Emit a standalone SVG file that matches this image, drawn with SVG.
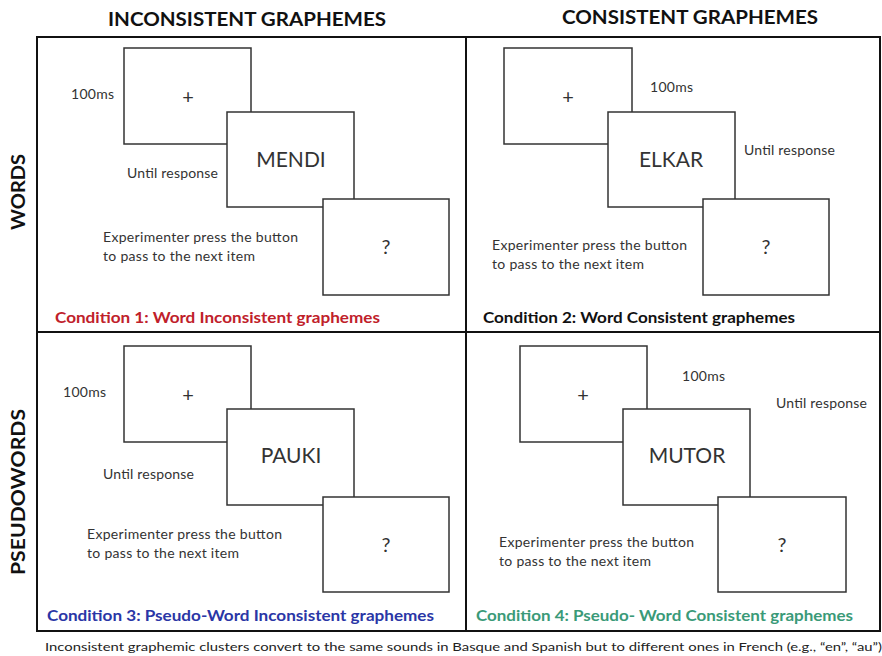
<svg xmlns="http://www.w3.org/2000/svg" width="882" height="656" viewBox="0 0 882 656">
<style>
text{font-family:Lato,"Open Sans","Liberation Sans",sans-serif;fill:#333}
.frame{fill:none;stroke:#111;stroke-width:2}
.scr{fill:#fff;stroke:#333;stroke-width:1.5}
.lbl{font-size:14px}
.stim{font-size:21px;text-anchor:middle}
.sym{font-size:20px;text-anchor:middle}
.head{font-size:18px;font-weight:bold;fill:#111;text-anchor:middle}
.cond{font-size:15px;font-weight:bold}
.foot{font-size:12px;fill:#222}
</style>
<rect width="882" height="656" fill="#fff"/>
<g id="headings">
<text class="head" x="247" y="26" textLength="278" lengthAdjust="spacingAndGlyphs">INCONSISTENT GRAPHEMES</text>
<text class="head" x="690" y="24" textLength="256" lengthAdjust="spacingAndGlyphs">CONSISTENT GRAPHEMES</text>
<text class="head" transform="translate(25,192) rotate(-90)" textLength="76" lengthAdjust="spacingAndGlyphs">WORDS</text>
<text class="head" transform="translate(25,492) rotate(-90)" textLength="166" lengthAdjust="spacingAndGlyphs">PSEUDOWORDS</text>
</g>
<g id="connectors">
<path class="frame" d="M37,37 H880 V631 H37 Z M466,37 V631 M37,332 H880"/>
</g>
<g id="cond1">
<rect class="scr" x="124" y="48" width="127" height="96"/>
<rect class="scr" x="227" y="112" width="127" height="95"/>
<rect class="scr" x="323" y="199" width="126" height="96"/>
<text class="sym" x="188" y="104">+</text>
<text class="stim" x="291" y="167">MENDI</text>
<text class="sym" x="386" y="254">?</text>
<text class="lbl" x="71" y="99" textLength="43">100ms</text>
<text class="lbl" x="127" y="178" textLength="91">Until response</text>
<text class="lbl" x="103" y="242" textLength="195">Experimenter press the button</text>
<text class="lbl" x="103" y="261" textLength="152">to pass to the next item</text>
<text class="cond" x="55" y="323" style="fill:#c0202a" textLength="325" lengthAdjust="spacingAndGlyphs">Condition 1: Word Inconsistent graphemes</text>
</g>
<g id="cond2">
<rect class="scr" x="504" y="48" width="128" height="96"/>
<rect class="scr" x="608" y="112" width="127" height="95"/>
<rect class="scr" x="703" y="199" width="126" height="96"/>
<text class="sym" x="568" y="104">+</text>
<text class="stim" x="671" y="167">ELKAR</text>
<text class="sym" x="766" y="254">?</text>
<text class="lbl" x="650" y="92" textLength="43">100ms</text>
<text class="lbl" x="744" y="155" textLength="91">Until response</text>
<text class="lbl" x="492" y="250" textLength="195">Experimenter press the button</text>
<text class="lbl" x="492" y="269" textLength="152">to pass to the next item</text>
<text class="cond" x="483" y="323" style="fill:#111" textLength="312" lengthAdjust="spacingAndGlyphs">Condition 2: Word Consistent graphemes</text>
</g>
<g id="cond3">
<rect class="scr" x="124" y="346" width="127" height="96"/>
<rect class="scr" x="227" y="409" width="127" height="96"/>
<rect class="scr" x="323" y="497" width="126" height="95"/>
<text class="sym" x="188" y="402">+</text>
<text class="stim" x="291" y="463">PAUKI</text>
<text class="sym" x="386" y="552">?</text>
<text class="lbl" x="63" y="397" textLength="43">100ms</text>
<text class="lbl" x="103" y="479" textLength="91">Until response</text>
<text class="lbl" x="87" y="539" textLength="195">Experimenter press the button</text>
<text class="lbl" x="87" y="558" textLength="152">to pass to the next item</text>
<text class="cond" x="47" y="621" style="fill:#2a36a6" textLength="387" lengthAdjust="spacingAndGlyphs">Condition 3: Pseudo-Word Inconsistent graphemes</text>
</g>
<g id="cond4">
<rect class="scr" x="520" y="346" width="127" height="96"/>
<rect class="scr" x="623" y="409" width="127" height="96"/>
<rect class="scr" x="718" y="497" width="128" height="95"/>
<text class="sym" x="583" y="402">+</text>
<text class="stim" x="687" y="463">MUTOR</text>
<text class="sym" x="782" y="552">?</text>
<text class="lbl" x="682" y="381" textLength="43">100ms</text>
<text class="lbl" x="776" y="408" textLength="91">Until response</text>
<text class="lbl" x="499" y="547" textLength="195">Experimenter press the button</text>
<text class="lbl" x="499" y="566" textLength="152">to pass to the next item</text>
<text class="cond" x="476" y="621" style="fill:#3a9a78" textLength="377" lengthAdjust="spacingAndGlyphs">Condition 4: Pseudo- Word Consistent graphemes</text>
</g>
<g id="footnote">
<text class="foot" x="45" y="651" textLength="837" lengthAdjust="spacingAndGlyphs">Inconsistent graphemic clusters convert to the same sounds in Basque and Spanish but to different ones in French (e.g., “en”, “au”)</text>
</g>
</svg>
